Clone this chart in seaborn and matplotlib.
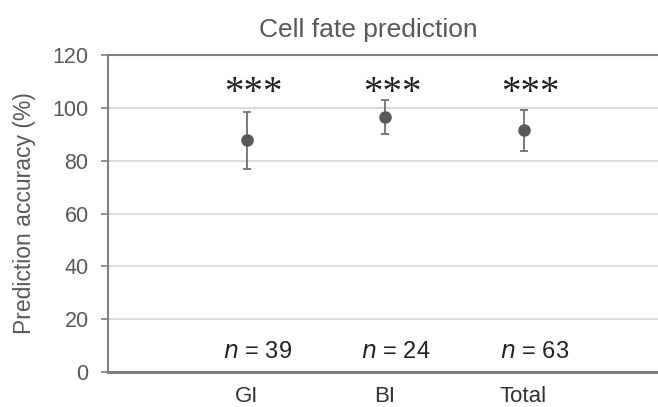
import matplotlib
matplotlib.use("Agg")
import matplotlib.pyplot as plt
import seaborn as sns
import pandas as pd

categories = ["GI", "BI", "Total"]
means = [87.7, 96.5, 91.5]
err_low = [77.0, 90.0, 83.5]
err_high = [98.6, 102.8, 99.1]
n_labels = ["39", "24", "63"]
star_labels = ["***", "***", "***"]
yticks = [0, 20, 40, 60, 80, 100, 120]

sns.set_theme(style="white")
plt.rcParams["font.family"] = ["Liberation Sans", "DejaVu Sans"]

TXT = "#595959"
fig = plt.figure(figsize=(6.58, 4.07), dpi=100)
ax = fig.add_axes([108/658, (407-372)/407, (662-108)/658, (372-55)/407])

df = pd.DataFrame({"cat": categories, "mean": means})
lo = [m - l for m, l in zip(means, err_low)]
hi = [h - m for m, h in zip(means, err_high)]
ax.errorbar(range(len(categories)), means, yerr=[lo, hi], fmt="none",
            ecolor="#7a7a7a", elinewidth=1.4, capsize=3, capthick=1.4, zorder=3)
sns.pointplot(data=df, x="cat", y="mean", linestyle="none", color="#595959",
              markersize=7, errorbar=None, ax=ax, zorder=4)

ax.set_xlim(-1, 3)
ax.set_ylim(0, 120)
ax.set_yticks(yticks)
ax.yaxis.grid(True, color="#d9d9d9", linewidth=1.3)
ax.set_axisbelow(True)
for s in ["left", "bottom", "top"]:
    ax.spines[s].set_color("#808080")
    ax.spines[s].set_linewidth(1.5)
ax.spines["bottom"].set_linewidth(2.2)
ax.spines["right"].set_visible(False)
ax.tick_params(axis="y", length=5, width=1.2, color="#808080", labelsize=15.5,
               labelcolor=TXT, pad=9, left=True)
ax.tick_params(axis="x", length=0, labelsize=16, labelcolor="#333333", pad=10)
ax.set_xlabel("")
ax.set_ylabel("Prediction accuracy (%)", fontsize=16.5, color=TXT)
ax.yaxis.set_label_coords(-0.13, 0.5)

for i, (n, st) in enumerate(zip(n_labels, star_labels)):
    ax.text(i + 0.05, 105.5, st, ha="center", va="center", fontsize=28,
            family=["Liberation Serif", "DejaVu Serif"], color="#222222")
    ax.text(i + 0.08, 7.5, r"$\it{n}$ = " + n, ha="center", va="center",
            fontsize=17, color="#222222")

fig.text(368/658, 1 - 30/407, "Cell fate prediction", ha="center", va="center",
         fontsize=19, color=TXT)

fig.savefig("out.png", dpi=100)
